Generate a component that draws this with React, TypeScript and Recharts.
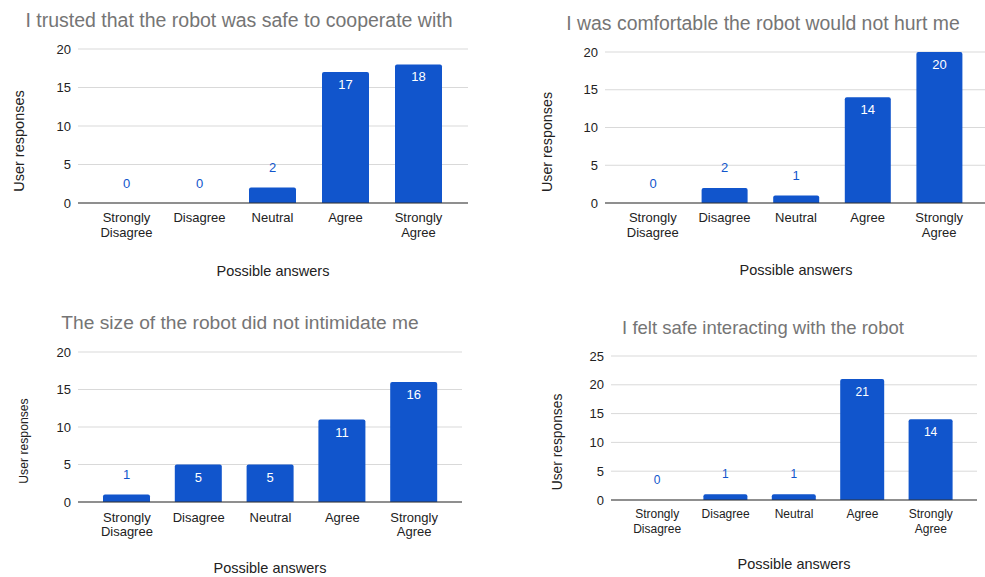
import { BarChart, Bar, XAxis, YAxis, CartesianGrid, LabelList } from 'recharts'

const categories = ['Strongly Disagree', 'Disagree', 'Neutral', 'Agree', 'Strongly Agree']
const trustedSafe = [0, 0, 2, 17, 18]
const wouldNotHurt = [0, 2, 1, 14, 20]
const sizeNotIntimidating = [1, 5, 5, 11, 16]
const feltSafe = [0, 1, 1, 21, 14]
const ticksTo20 = [0, 5, 10, 15, 20]
const ticksTo25 = [0, 5, 10, 15, 20, 25]
const titles = [
  'I trusted that the robot was safe to cooperate with',
  'I was comfortable the robot would not hurt me',
  'The size of the robot did not intimidate me',
  'I felt safe interacting with the robot',
]
const xTitle = 'Possible answers'
const yTitle = 'User responses'

const BLUE = '#1155cc'
const FONT = 'Arial, "Liberation Sans", sans-serif'

interface Layout {
  left: number
  top: number
  width: number
  height: number
  margin: { top: number; right: number; bottom: number; left: number }
  padding: { left: number; right: number }
  barSize: number
  titleX: number
  titleY: number
  titleSize: number
  yTitleX: number
  yTitleY: number
  yTitleSize: number
  xTitleX: number
  xTitleY: number
  tickSize: number
  lineGap: number
  firstLine: number
  labelSize: number
}

const layouts: Layout[] = [
  {
    left: 0, top: 0, width: 490, height: 290,
    margin: { top: 49, right: 22, bottom: 47, left: 38 },
    padding: { left: 12, right: 13 }, barSize: 47,
    titleX: 239, titleY: 20, titleSize: 19.5, yTitleX: 19, yTitleY: 141, yTitleSize: 14.5,
    xTitleX: 273, xTitleY: 271, tickSize: 13, lineGap: 15.5, firstLine: 14, labelSize: 13,
  },
  {
    left: 490, top: 0, width: 495, height: 290,
    margin: { top: 52, right: 0, bottom: 47, left: 75 },
    padding: { left: 12, right: 10 }, barSize: 46,
    titleX: 763, titleY: 23, titleSize: 19.4, yTitleX: 547, yTitleY: 142, yTitleSize: 14.3,
    xTitleX: 796, xTitleY: 270, tickSize: 13, lineGap: 15, firstLine: 14, labelSize: 13,
  },
  {
    left: 0, top: 290, width: 490, height: 287,
    margin: { top: 62, right: 28, bottom: 35, left: 38 },
    padding: { left: 13, right: 12 }, barSize: 47,
    titleX: 240, titleY: 323, titleSize: 19.2, yTitleX: 24, yTitleY: 441, yTitleSize: 12.2,
    xTitleX: 270, xTitleY: 568, tickSize: 13, lineGap: 14.6, firstLine: 15, labelSize: 13,
  },
  {
    left: 490, top: 290, width: 495, height: 287,
    margin: { top: 66, right: 8, bottom: 37, left: 81 },
    padding: { left: 12, right: 12 }, barSize: 44,
    titleX: 763, titleY: 328, titleSize: 18.5, yTitleX: 557, yTitleY: 442, yTitleSize: 13.8,
    xTitleX: 794, xTitleY: 564, tickSize: 12, lineGap: 14.3, firstLine: 14, labelSize: 12,
  },
]

function CategoryTick(props: any) {
  const { x, y, payload, fontSize, lineGap, firstLine } = props
  const lines = String(payload.value).split(' ')
  return (
    <text x={x} textAnchor="middle" fill="#222" fontSize={fontSize}>
      {lines.map((line: string, i: number) => (
        <tspan key={i} x={x} y={y + firstLine + i * lineGap + fontSize * 0.35}>
          {line}
        </tspan>
      ))}
    </text>
  )
}

function valueLabel(fontSize: number) {
  return (props: any) => {
    const x = Number(props.x)
    const y = Number(props.y)
    const w = Number(props.width)
    const h = Number(props.height)
    const inside = h > 24
    const cy = inside ? y + 12.5 : y - 20
    return (
      <text
        x={x + w / 2}
        y={cy + fontSize * 0.35}
        textAnchor="middle"
        fill={inside ? '#fff' : BLUE}
        fontSize={fontSize}
      >
        {props.value}
      </text>
    )
  }
}

function SurveyChart({ values, ticks, title, l }: { values: number[]; ticks: number[]; title: string; l: Layout }) {
  const data = categories.map((c, i) => ({ answer: c, count: values[i] }))
  const max = ticks[ticks.length - 1]
  return (
    <>
      <div style={{ position: 'absolute', left: l.left, top: l.top }}>
        <BarChart width={l.width} height={l.height} data={data} margin={l.margin}>
          <CartesianGrid vertical={false} stroke="#d9d9d9" />
          <XAxis
            dataKey="answer"
            height={40}
            padding={l.padding}
            axisLine={{ stroke: '#333' }}
            tickLine={false}
            tickSize={0}
            tickMargin={0}
            interval={0}
            tick={(p: any) => (
              <CategoryTick {...p} fontSize={l.tickSize} lineGap={l.lineGap} firstLine={l.firstLine} />
            )}
          />
          <YAxis
            width={40}
            domain={[0, max]}
            ticks={ticks}
            axisLine={false}
            tickLine={false}
            tickSize={0}
            tickMargin={7}
            tick={{ fill: '#222', fontSize: 13 }}
          />
          <Bar
            dataKey="count"
            fill={BLUE}
            barSize={l.barSize}
            minPointSize={0.01}
            radius={[2, 2, 0, 0]}
            isAnimationActive={false}
          >
            <LabelList dataKey="count" content={valueLabel(l.labelSize)} />
          </Bar>
        </BarChart>
      </div>
      <div
        style={{
          position: 'absolute', left: l.titleX, top: l.titleY, transform: 'translate(-50%, -50%)',
          whiteSpace: 'nowrap', fontSize: l.titleSize, color: '#757575',
        }}
      >
        {title}
      </div>
      <div
        style={{
          position: 'absolute', left: l.yTitleX, top: l.yTitleY, transform: 'translate(-50%, -50%) rotate(-90deg)',
          whiteSpace: 'nowrap', fontSize: l.yTitleSize, color: '#222',
        }}
      >
        {yTitle}
      </div>
      <div
        style={{
          position: 'absolute', left: l.xTitleX, top: l.xTitleY, transform: 'translate(-50%, -50%)',
          whiteSpace: 'nowrap', fontSize: 14.5, color: '#222',
        }}
      >
        {xTitle}
      </div>
    </>
  )
}

export default function App() {
  return (
    <div
      style={{
        position: 'absolute', left: 0, top: 0, width: 985, height: 577,
        background: '#fff', fontFamily: FONT, overflow: 'hidden',
      }}
    >
      <SurveyChart values={trustedSafe} ticks={ticksTo20} title={titles[0]} l={layouts[0]} />
      <SurveyChart values={wouldNotHurt} ticks={ticksTo20} title={titles[1]} l={layouts[1]} />
      <SurveyChart values={sizeNotIntimidating} ticks={ticksTo20} title={titles[2]} l={layouts[2]} />
      <SurveyChart values={feltSafe} ticks={ticksTo25} title={titles[3]} l={layouts[3]} />
    </div>
  )
}
